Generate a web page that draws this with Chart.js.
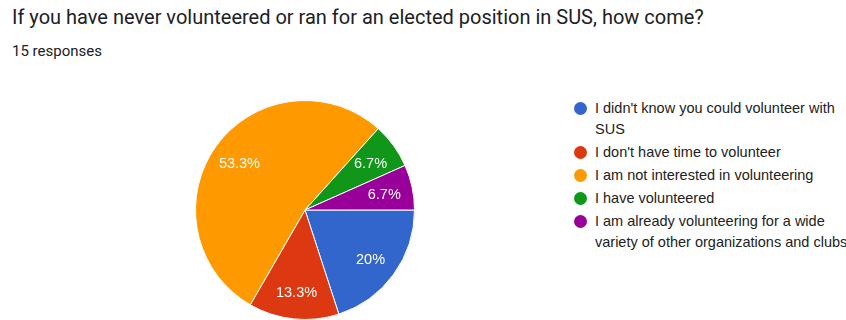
<!DOCTYPE html>
<html>
<head>
<meta charset="utf-8">
<script src="https://cdn.jsdelivr.net/npm/chart.js@4.4.1/dist/chart.umd.min.js"></script>
<style>
    html, body { margin: 0; padding: 0; background: #fff; }
    body { width: 846px; height: 320px; position: relative; overflow: hidden; font-family: Roboto, Arial, sans-serif; }
    #title { position: absolute; left: 12px; top: 7px; font-size: 20px; line-height: 20px; color: #202124; white-space: nowrap; }
    #subtitle { position: absolute; left: 12px; top: 44px; font-size: 15px; line-height: 15px; color: #202124; }
    #pieBox { position: absolute; left: 195px; top: 100px; width: 220px; height: 220px; }
    #legend { position: absolute; left: 572px; top: 98px; width: 282px; font-family: "Liberation Sans", Arial, sans-serif; font-size: 14.5px; color: #222; }
    #legend .item { position: relative; padding-left: 23px; line-height: 21px; margin-bottom: 2px; }
    #legend .dot { position: absolute; left: 2px; top: 4px; width: 13px; height: 13px; border-radius: 50%; }
</style>
</head>
<body>
<div id="title">If you have never volunteered or ran for an elected position in SUS, how come?</div>
<div id="subtitle">15 responses</div>
<div id="pieBox"><canvas id="pieChart"></canvas></div>
<div id="legend"></div>

<script>
const answers = [
    "I didn't know you could volunteer with SUS",
    "I don't have time to volunteer",
    "I am not interested in volunteering",
    "I have volunteered",
    "I am already volunteering for a wide variety of other organizations and clubs"
];
const responses = [3, 2, 8, 1, 1];
const sliceColors = ['#3366cc', '#dc3912', '#ff9900', '#109618', '#990099'];

// percentage text inside each slice
const sliceLabels = {
    id: 'sliceLabels',
    afterDatasetsDraw(chart) {
        const c = chart.ctx;
        const meta = chart.getDatasetMeta(0);
        const total = responses.reduce((a, b) => a + b, 0);
        c.save();
        c.fillStyle = '#fff';
        c.font = '14.5px "Liberation Sans", Arial, sans-serif';
        c.textAlign = 'center';
        c.textBaseline = 'middle';
        meta.data.forEach((arc, i) => {
            const mid = (arc.startAngle + arc.endAngle) / 2;
            const r = arc.outerRadius * 0.74;
            const pct = Math.round(responses[i] / total * 1000) / 10;
            c.fillText(pct + '%', arc.x + Math.cos(mid) * r, arc.y + Math.sin(mid) * r + 2);
        });
        c.restore();
    }
};

const chart = new Chart(document.getElementById('pieChart'), {
    type: 'pie',
    data: {
        labels: answers,
        datasets: [{
            data: responses,
            backgroundColor: sliceColors,
            borderColor: '#fff',
            borderWidth: 1,
            hoverOffset: 0
        }]
    },
    options: {
        responsive: true,
        maintainAspectRatio: false,
        animation: false,
        rotation: 90,
        layout: { padding: 0 },
        plugins: {
            legend: { display: false },
            tooltip: { enabled: false }
        }
    },
    plugins: [sliceLabels]
});

// legend with wrapped labels, built from the chart's own items
const legendEl = document.getElementById('legend');
chart.options.plugins.legend.labels.generateLabels(chart).forEach(item => {
    const row = document.createElement('div');
    row.className = 'item';
    const dot = document.createElement('span');
    dot.className = 'dot';
    dot.style.background = item.fillStyle;
    row.appendChild(dot);
    row.appendChild(document.createTextNode(item.text));
    legendEl.appendChild(row);
});
</script>
</body>
</html>
